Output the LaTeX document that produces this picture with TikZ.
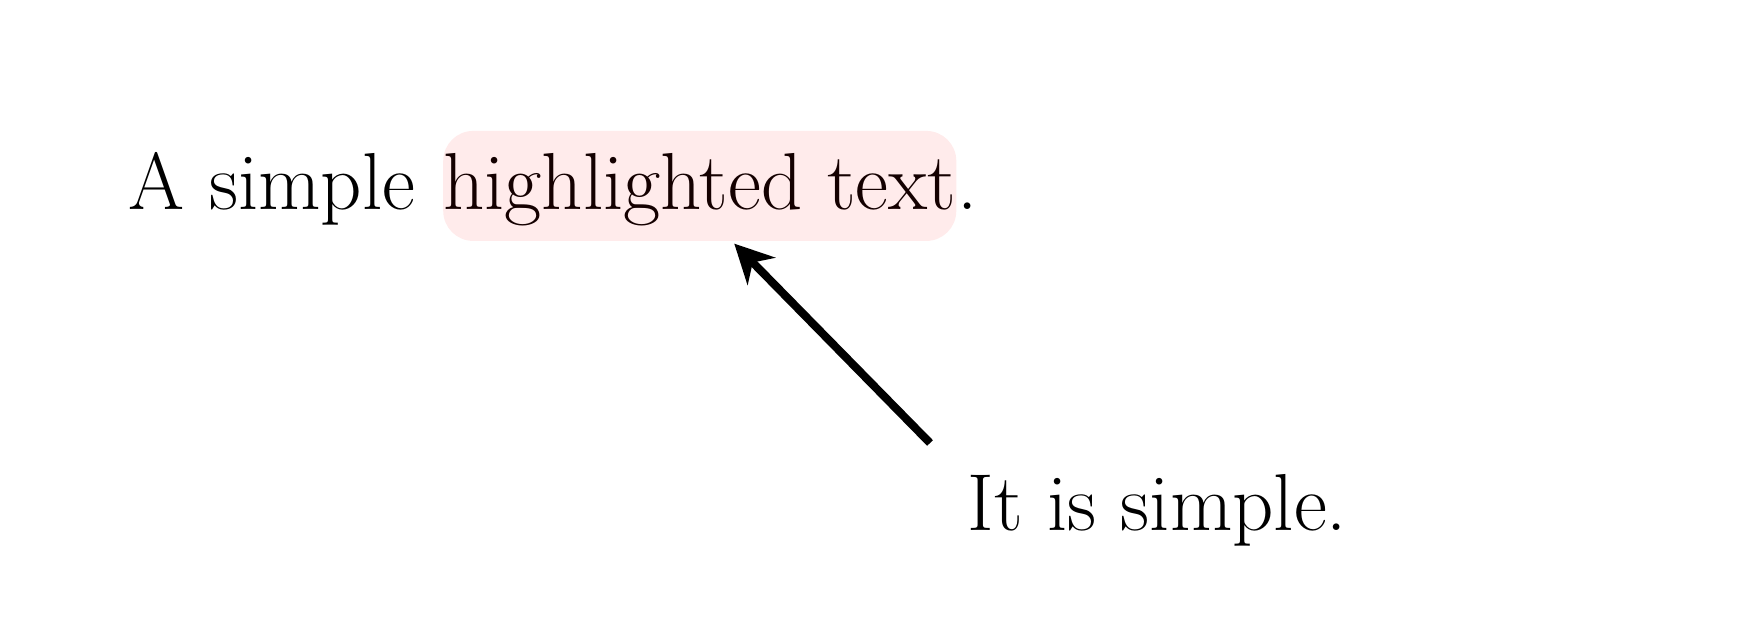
\documentclass[tikz,border=0pt]{standalone}
\usetikzlibrary{positioning,arrows.meta}
\definecolor{hlfill}{RGB}{255,235,235}
\definecolor{hltext}{RGB}{20,0,0}

\begin{document}
\begin{tikzpicture}
    \tikzstyle{every node}+=[inner sep=0pt, font=\fontsize{23}{27}\selectfont]
    \tikzstyle{highlight}=[fill=hlfill, text=hltext, rounded corners=0.3cm, text height=22.5pt, text depth=8.8pt]
    \tikzstyle{pointer}=[line width=2.3pt, -{Stealth[length=11pt,width=11pt,inset=3.5pt]}]
    \useasboundingbox (0,0) rectangle (17.47,6.32);
    \node [anchor=base west] (pre) at (1.28,4.22) {A simple};
    \node [highlight, base right=7.6pt of pre] (hl) {highlighted text};
    \node [base right=0pt of hl] (dot) {.};
    \node [anchor=base west] (note) at (9.67,1.02) {It is simple.};
    \coordinate (tail) at (9.30,1.89);
    \draw [pointer] (tail) -- ([xshift=0.345cm,yshift=-0.02cm]hl.south);
\end{tikzpicture}
\end{document}
